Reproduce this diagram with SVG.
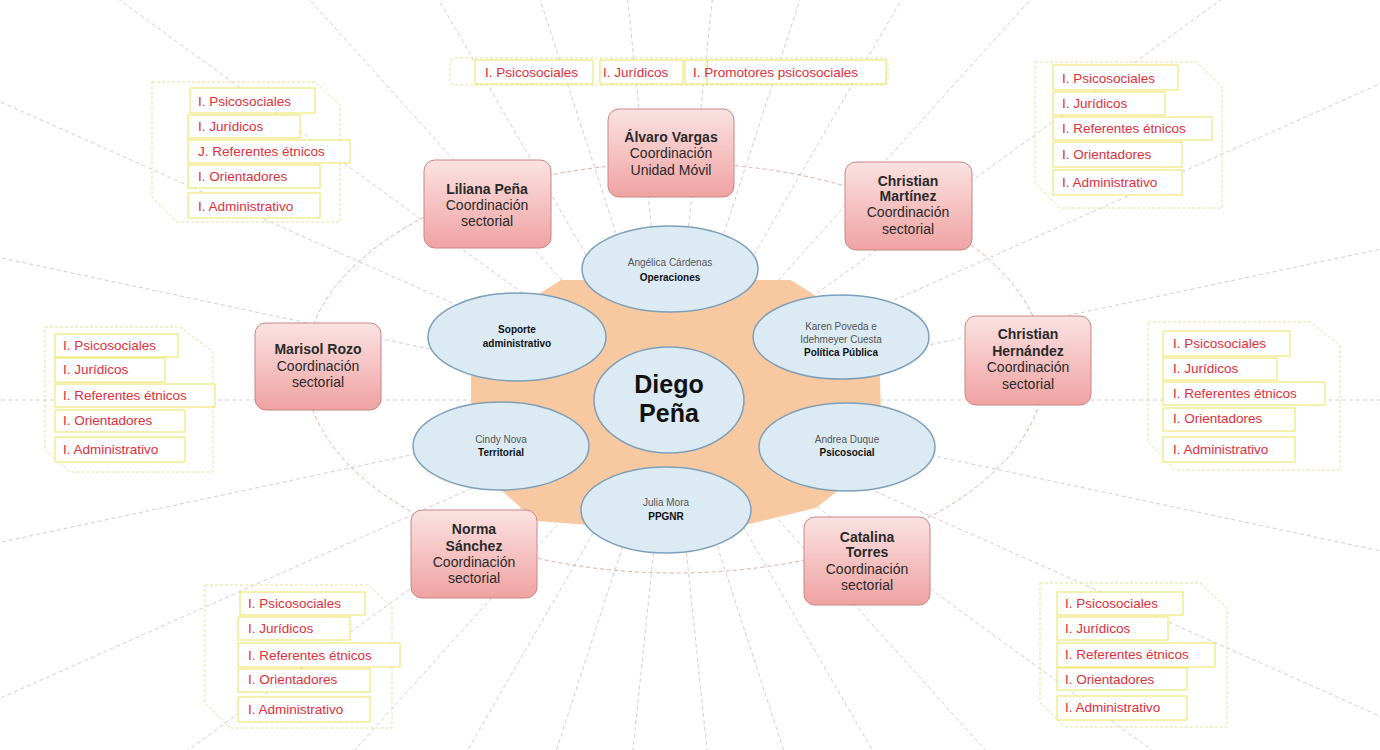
<svg xmlns="http://www.w3.org/2000/svg" width="1380" height="750" viewBox="0 0 1380 750">
<defs>
<linearGradient id="rg" x1="0" y1="0" x2="0" y2="1">
<stop offset="0" stop-color="#fbe2e2"/>
<stop offset="1" stop-color="#f0a2a2"/>
</linearGradient>
<style>
.ray{stroke:#cfcfcf;stroke-width:1;stroke-dasharray:4 3;fill:none}
.orbit{stroke:#e3aaaa;stroke-width:1;stroke-dasharray:4 3;fill:none}
.cont{fill:none;stroke:#e2e29a;stroke-width:1;stroke-dasharray:3 2}
.item{fill:#fff;stroke:#ece25c;stroke-width:1}
.itxt{font-family:"Liberation Sans",Arial,sans-serif;font-size:13.5px;fill:#e0303c}
.rbox{fill:url(#rg);stroke:#c98686;stroke-width:1}
.rtxt{font-family:"Liberation Sans",Arial,sans-serif;font-size:14px;fill:#2a2a2a;text-anchor:middle}
.b{font-weight:bold}
.ell{fill:#dbeaf3;stroke:#7f9fb8;stroke-width:1.5}
.etxt{font-family:"Liberation Sans",Arial,sans-serif;font-size:10px;fill:#555;text-anchor:middle}
.erole{font-weight:bold;fill:#111}
.big{font-family:"Liberation Sans",Arial,sans-serif;font-size:25px;font-weight:bold;fill:#111;text-anchor:middle}
</style>
</defs>
<rect width="1380" height="750" fill="#ffffff"/>

<g id="connectors">
<line class="ray" x1="810" y1="400" x2="1570" y2="400"/>
<line class="ray" x1="807" y1="429" x2="1550" y2="587"/>
<line class="ray" x1="798" y1="457" x2="1492" y2="766"/>
<line class="ray" x1="783" y1="482" x2="1398" y2="929"/>
<line class="ray" x1="764" y1="504" x2="1272" y2="1069"/>
<line class="ray" x1="740" y1="521" x2="1120" y2="1179"/>
<line class="ray" x1="713" y1="533" x2="948" y2="1256"/>
<line class="ray" x1="685" y1="539" x2="764" y2="1295"/>
<line class="ray" x1="655" y1="539" x2="576" y2="1295"/>
<line class="ray" x1="627" y1="533" x2="392" y2="1256"/>
<line class="ray" x1="600" y1="521" x2="220" y2="1179"/>
<line class="ray" x1="576" y1="504" x2="68" y2="1069"/>
<line class="ray" x1="557" y1="482" x2="-58" y2="929"/>
<line class="ray" x1="542" y1="457" x2="-152" y2="766"/>
<line class="ray" x1="533" y1="429" x2="-210" y2="587"/>
<line class="ray" x1="530" y1="400" x2="-230" y2="400"/>
<line class="ray" x1="533" y1="371" x2="-210" y2="213"/>
<line class="ray" x1="542" y1="343" x2="-152" y2="34"/>
<line class="ray" x1="557" y1="318" x2="-58" y2="-129"/>
<line class="ray" x1="576" y1="296" x2="68" y2="-269"/>
<line class="ray" x1="600" y1="279" x2="220" y2="-379"/>
<line class="ray" x1="627" y1="267" x2="392" y2="-456"/>
<line class="ray" x1="655" y1="261" x2="576" y2="-495"/>
<line class="ray" x1="685" y1="261" x2="764" y2="-495"/>
<line class="ray" x1="713" y1="267" x2="948" y2="-456"/>
<line class="ray" x1="740" y1="279" x2="1120" y2="-379"/>
<line class="ray" x1="764" y1="296" x2="1272" y2="-269"/>
<line class="ray" x1="783" y1="318" x2="1398" y2="-129"/>
<line class="ray" x1="798" y1="343" x2="1492" y2="34"/>
<line class="ray" x1="807" y1="371" x2="1550" y2="213"/>
<ellipse class="orbit" cx="675" cy="368" rx="370" ry="205"/>
</g>

<g id="hub-background">
<path d="M562,283 L790,283 L876,338 L879,455 L815,505 L745,522 L590,522 L537,518 L474,462 L474,338 Z" fill="#f8c9a0" stroke="#f8c9a0" stroke-width="6" stroke-linejoin="round"/>
</g>

<g id="n-operaciones">
<ellipse class="ell" cx="670" cy="269" rx="88" ry="43"/>
<text class="etxt" x="670" y="266">Angélica Cárdenas</text>
<text class="etxt erole" x="670" y="281">Operaciones</text>
</g>
<g id="n-soporte">
<ellipse class="ell" cx="517" cy="337" rx="89" ry="44"/>
<text class="etxt erole" x="517" y="333">Soporte</text>
<text class="etxt erole" x="517" y="347">administrativo</text>
</g>
<g id="n-politica">
<ellipse class="ell" cx="841" cy="337" rx="88" ry="42"/>
<text class="etxt" x="841" y="330">Karen Poveda e</text>
<text class="etxt" x="841" y="343">Idehmeyer Cuesta</text>
<text class="etxt erole" x="841" y="356">Política Pública</text>
</g>
<g id="n-territorial">
<ellipse class="ell" cx="501" cy="446" rx="88" ry="44"/>
<text class="etxt" x="501" y="443">Cindy Nova</text>
<text class="etxt erole" x="501" y="456">Territorial</text>
</g>
<g id="n-psicosocial">
<ellipse class="ell" cx="847" cy="447" rx="88" ry="44"/>
<text class="etxt" x="847" y="443">Andrea Duque</text>
<text class="etxt erole" x="847" y="456">Psicosocial</text>
</g>
<g id="n-ppgnr">
<ellipse class="ell" cx="666" cy="510" rx="85" ry="43"/>
<text class="etxt" x="666" y="506">Julia Mora</text>
<text class="etxt erole" x="666" y="520">PPGNR</text>
</g>
<g id="n-diego">
<ellipse class="ell" cx="669" cy="400" rx="75" ry="53"/>
<text class="big" x="669" y="393">Diego</text>
<text class="big" x="669" y="422">Peña</text>
</g>

<g id="n-alvaro">
<rect class="rbox" x="608" y="109" width="126" height="88" rx="11"/>
<text class="rtxt b" x="671" y="142">Álvaro Vargas</text>
<text class="rtxt" x="671" y="158">Coordinación</text>
<text class="rtxt" x="671" y="175">Unidad Móvil</text>
</g>
<g id="n-liliana">
<rect class="rbox" x="424" y="160" width="127" height="88" rx="11"/>
<text class="rtxt b" x="487" y="194">Liliana Peña</text>
<text class="rtxt" x="487" y="210">Coordinación</text>
<text class="rtxt" x="487" y="226">sectorial</text>
</g>
<g id="n-cmartinez">
<rect class="rbox" x="845" y="162" width="127" height="88" rx="11"/>
<text class="rtxt b" x="908" y="186">Christian</text>
<text class="rtxt b" x="908" y="201">Martínez</text>
<text class="rtxt" x="908" y="217">Coordinación</text>
<text class="rtxt" x="908" y="234">sectorial</text>
</g>
<g id="n-chernandez">
<rect class="rbox" x="965" y="316" width="126" height="89" rx="11"/>
<text class="rtxt b" x="1028" y="339">Christian</text>
<text class="rtxt b" x="1028" y="356">Hernández</text>
<text class="rtxt" x="1028" y="372">Coordinación</text>
<text class="rtxt" x="1028" y="389">sectorial</text>
</g>
<g id="n-marisol">
<rect class="rbox" x="255" y="323" width="126" height="87" rx="11"/>
<text class="rtxt b" x="318" y="354">Marisol Rozo</text>
<text class="rtxt" x="318" y="371">Coordinación</text>
<text class="rtxt" x="318" y="387">sectorial</text>
</g>
<g id="n-norma">
<rect class="rbox" x="411" y="510" width="126" height="88" rx="11"/>
<text class="rtxt b" x="474" y="534">Norma</text>
<text class="rtxt b" x="474" y="551">Sánchez</text>
<text class="rtxt" x="474" y="567">Coordinación</text>
<text class="rtxt" x="474" y="583">sectorial</text>
</g>
<g id="n-catalina">
<rect class="rbox" x="804" y="517" width="126" height="88" rx="11"/>
<text class="rtxt b" x="867" y="542">Catalina</text>
<text class="rtxt b" x="867" y="557">Torres</text>
<text class="rtxt" x="867" y="574">Coordinación</text>
<text class="rtxt" x="867" y="590">sectorial</text>
</g>

<g id="list-top">
<rect class="cont" x="450" y="58" width="438" height="27" rx="5"/>
<rect class="item" x="475" y="60" width="118" height="24"/>
<text class="itxt" x="485" y="77">I. Psicosociales</text>
<rect class="item" x="600" y="60" width="83" height="24"/>
<text class="itxt" x="603" y="77">I. Jurídicos</text>
<rect class="item" x="707" y="60" width="179" height="24"/>
<rect class="item" x="685" y="60" width="22" height="24"/>
<text class="itxt" x="693" y="77">I. Promotores psicosociales</text>
</g>

<g id="list-topleft">
<path class="cont" d="M152,82 H315 L340,105 V222 H177 L152,197 Z"/>
<rect class="item" x="190" y="88" width="125" height="25"/>
<text class="itxt" x="198" y="106">I. Psicosociales</text>
<rect class="item" x="188" y="115" width="112" height="23"/>
<text class="itxt" x="198" y="131">I. Jurídicos</text>
<rect class="item" x="188" y="140" width="162" height="23"/>
<text class="itxt" x="198" y="156">J. Referentes étnicos</text>
<rect class="item" x="188" y="165" width="132" height="23"/>
<text class="itxt" x="198" y="181">I. Orientadores</text>
<rect class="item" x="188" y="193" width="132" height="25"/>
<text class="itxt" x="198" y="211">I. Administrativo</text>
</g>

<g id="list-topright">
<path class="cont" d="M1035,62 H1197 L1222,87 V208 H1060 L1035,183 Z"/>
<rect class="item" x="1053" y="65" width="125" height="25"/>
<text class="itxt" x="1062" y="83">I. Psicosociales</text>
<rect class="item" x="1053" y="92" width="112" height="23"/>
<text class="itxt" x="1062" y="108">I. Jurídicos</text>
<rect class="item" x="1053" y="117" width="159" height="23"/>
<text class="itxt" x="1062" y="133">I. Referentes étnicos</text>
<rect class="item" x="1053" y="142" width="129" height="25"/>
<text class="itxt" x="1062" y="159">I. Orientadores</text>
<rect class="item" x="1053" y="170" width="129" height="25"/>
<text class="itxt" x="1062" y="187">I. Administrativo</text>
</g>

<g id="list-left">
<path class="cont" d="M45,327 H180 L213,352 V472 H70 L45,450 Z"/>
<rect class="item" x="55" y="334" width="123" height="23"/>
<text class="itxt" x="63" y="350">I. Psicosociales</text>
<rect class="item" x="55" y="358" width="110" height="24"/>
<text class="itxt" x="63" y="374">I. Jurídicos</text>
<rect class="item" x="55" y="384" width="160" height="23"/>
<text class="itxt" x="63" y="400">I. Referentes étnicos</text>
<rect class="item" x="55" y="410" width="130" height="22"/>
<text class="itxt" x="63" y="425">I. Orientadores</text>
<rect class="item" x="55" y="437" width="130" height="25"/>
<text class="itxt" x="63" y="454">I. Administrativo</text>
</g>

<g id="list-right">
<path class="cont" d="M1148,322 H1310 L1340,345 V470 H1175 L1148,442 Z"/>
<rect class="item" x="1163" y="331" width="127" height="25"/>
<text class="itxt" x="1173" y="348">I. Psicosociales</text>
<rect class="item" x="1163" y="358" width="114" height="22"/>
<text class="itxt" x="1173" y="373">I. Jurídicos</text>
<rect class="item" x="1163" y="382" width="162" height="23"/>
<text class="itxt" x="1173" y="398">I. Referentes étnicos</text>
<rect class="item" x="1163" y="408" width="132" height="23"/>
<text class="itxt" x="1173" y="423">I. Orientadores</text>
<rect class="item" x="1163" y="437" width="132" height="25"/>
<text class="itxt" x="1173" y="454">I. Administrativo</text>
</g>

<g id="list-bottomleft">
<path class="cont" d="M205,585 H368 L392,607 V728 H230 L205,703 Z"/>
<rect class="item" x="240" y="592" width="125" height="23"/>
<text class="itxt" x="248" y="608">I. Psicosociales</text>
<rect class="item" x="238" y="617" width="112" height="23"/>
<text class="itxt" x="248" y="633">I. Jurídicos</text>
<rect class="item" x="238" y="643" width="162" height="24"/>
<text class="itxt" x="248" y="660">I. Referentes étnicos</text>
<rect class="item" x="238" y="669" width="132" height="23"/>
<text class="itxt" x="248" y="684">I. Orientadores</text>
<rect class="item" x="238" y="697" width="132" height="25"/>
<text class="itxt" x="248" y="714">I. Administrativo</text>
</g>

<g id="list-bottomright">
<path class="cont" d="M1040,583 H1200 L1227,608 V727 H1065 L1040,702 Z"/>
<rect class="item" x="1057" y="592" width="126" height="23"/>
<text class="itxt" x="1065" y="608">I. Psicosociales</text>
<rect class="item" x="1057" y="617" width="111" height="23"/>
<text class="itxt" x="1065" y="633">I. Jurídicos</text>
<rect class="item" x="1057" y="643" width="158" height="24"/>
<text class="itxt" x="1065" y="659">I. Referentes étnicos</text>
<rect class="item" x="1057" y="668" width="130" height="22"/>
<text class="itxt" x="1065" y="684">I. Orientadores</text>
<rect class="item" x="1057" y="696" width="130" height="24"/>
<text class="itxt" x="1065" y="712">I. Administrativo</text>
</g>
</svg>
